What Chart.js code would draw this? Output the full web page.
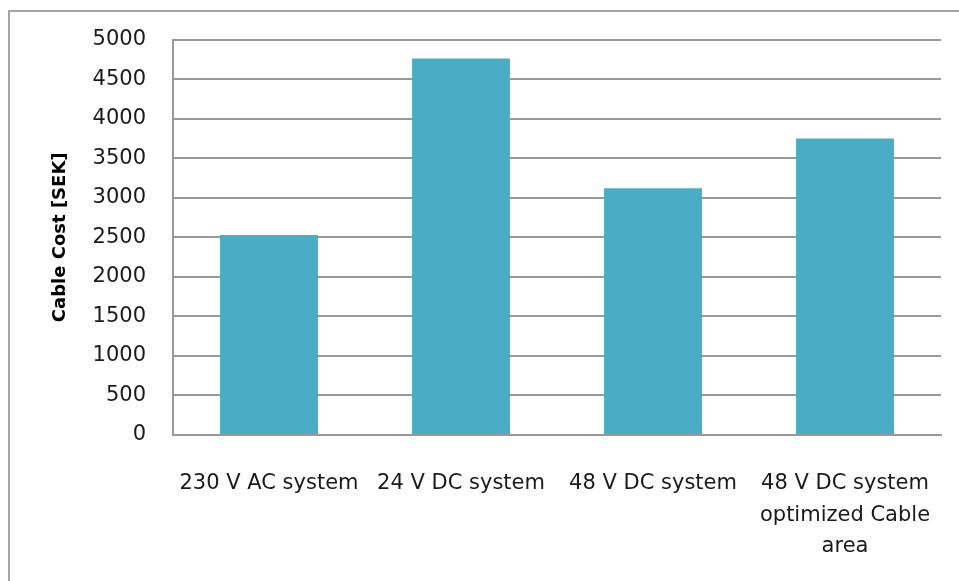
<!DOCTYPE html>
<html>
<head>
<meta charset="utf-8">
<script src="https://cdn.jsdelivr.net/npm/chart.js@4/dist/chart.umd.min.js"></script>
<style>
  html, body { margin: 0; padding: 0; background: #fff; }
  #wrap { position: relative; width: 959px; height: 581px; overflow: hidden; }
  #frame { position: absolute; left: 8px; top: 10px; width: 1000px; height: 700px; border: 2px solid #a6a6a6; }
  canvas { position: absolute; left: 0; top: 0; }
</style>
</head>
<body>
<div id="wrap">
  <div id="frame"></div>
  <canvas id="costChart" width="959" height="581"></canvas>
</div>
<script>
const categories = [
    '230 V AC system',
    '24 V DC system',
    '48 V DC system',
    ['48 V DC system', 'optimized Cable', 'area']
];
const cableCost = [2530, 4760, 3120, 3750];
const yTicks = [0, 500, 1000, 1500, 2000, 2500, 3000, 3500, 4000, 4500, 5000];

const gridGray = '#999999';

new Chart(document.getElementById('costChart').getContext('2d'), {
    type: 'bar',
    data: {
        labels: categories,
        datasets: [{
            label: 'Cable Cost [SEK]',
            data: cableCost,
            backgroundColor: '#4BACC6',
            borderWidth: 0,
            categoryPercentage: 1,
            barPercentage: 0.51
        }]
    },
    options: {
        responsive: false,
        animation: false,
        layout: { padding: { top: 39, right: 18, bottom: 0, left: 0 } },
        plugins: {
            legend: { display: false },
            tooltip: { enabled: false }
        },
        scales: {
            x: {
                grid: { display: false, drawTicks: false },
                border: { display: true, color: gridGray, width: 2 },
                ticks: {
                    color: '#1a1a1a',
                    padding: 33,
                    maxRotation: 0,
                    autoSkip: false,
                    font: { family: 'DejaVu Sans', size: 21, lineHeight: 1.5 }
                },
                afterFit: (scale) => {
                    scale.height = 146;
                    scale.paddingLeft = 0;
                    scale.paddingRight = 0;
                }
            },
            y: {
                min: 0,
                max: 5000,
                afterBuildTicks: (scale) => { scale.ticks = yTicks.map(v => ({ value: v })); },
                grid: { color: gridGray, lineWidth: 2, drawTicks: false },
                border: { display: true, color: gridGray, width: 2 },
                ticks: {
                    color: '#1a1a1a',
                    padding: 27,
                    font: { family: 'DejaVu Sans', size: 21 },
                    callback: (value) => String(value)
                },
                title: {
                    display: true,
                    text: 'Cable Cost [SEK]',
                    color: '#000',
                    padding: { top: 50, bottom: 0 },
                    font: { family: 'DejaVu Sans', size: 18, weight: 'bold' }
                },
                afterFit: (scale) => { scale.width = 173; }
            }
        }
    }
});
</script>
</body>
</html>
